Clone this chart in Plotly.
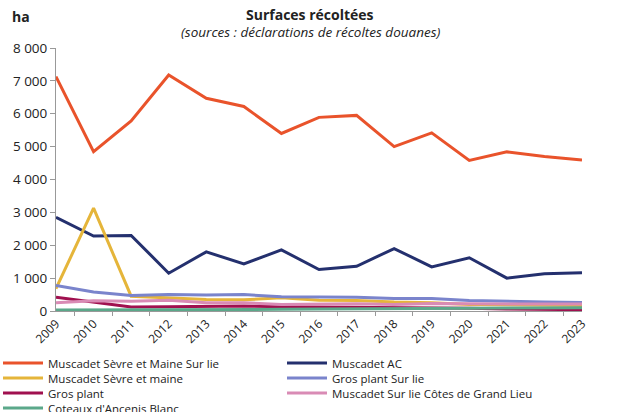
import plotly.graph_objects as go

years = [str(y) for y in range(2009, 2024)]

sevre_maine_sur_lie = [7130, 4850, 5780, 7180, 6470, 6220, 5400, 5890, 5950, 5000, 5420, 4580, 4840, 4700, 4590]
muscadet_ac = [2850, 2280, 2300, 1150, 1800, 1430, 1860, 1260, 1360, 1900, 1340, 1620, 1000, 1130, 1160]
sevre_maine = [680, 3130, 450, 400, 350, 340, 400, 330, 320, 270, 250, 200, 190, 180, 170]
gros_plant_sur_lie = [780, 580, 470, 500, 490, 500, 430, 420, 420, 380, 380, 320, 290, 270, 260]
gros_plant = [420, 280, 120, 130, 140, 150, 130, 120, 120, 120, 110, 80, 60, 50, 40]
cotes_grand_lieu = [250, 310, 300, 330, 250, 250, 200, 210, 220, 200, 230, 220, 220, 210, 210]
coteaux_ancenis = [30, 30, 40, 40, 50, 50, 50, 60, 60, 60, 60, 80, 90, 100, 100]

series = [
    ("Muscadet Sèvre et Maine Sur lie", sevre_maine_sur_lie, "#E9532B"),
    ("Muscadet AC", muscadet_ac, "#24306E"),
    ("Muscadet Sèvre et maine", sevre_maine, "#E5B53A"),
    ("Gros plant Sur lie", gros_plant_sur_lie, "#7A84CC"),
    ("Gros plant", gros_plant, "#A0104F"),
    ("Muscadet Sur lie Côtes de Grand Lieu", cotes_grand_lieu, "#D98BB5"),
    ("Coteaux d'Ancenis Blanc", coteaux_ancenis, "#5BA88A"),
]

L, R, T, B = 56, 37, 48, 101
W, H = 619, 412
pw, ph = W - L - R, H - T - B

def px2paper(px, py):
    return (px - L) / pw, (H - B - py) / ph

legend_names = ["legend", "legend2", "legend3", "legend4"]

fig = go.Figure()
for i, (name, vals, col) in enumerate(series):
    fig.add_trace(go.Scatter(x=years, y=vals, name=name, mode="lines",
                             line=dict(color=col, width=3),
                             legend=legend_names[i // 2]))

font_fam = "Open Sans, Noto Sans, sans-serif"

layout_legends = {}
for r, lname in enumerate(legend_names):
    lx, ly = px2paper(-2, 363 + 15 * r)
    layout_legends[lname] = dict(
        orientation="h", x=lx, xanchor="left", y=ly, yanchor="middle",
        entrywidth=229, entrywidthmode="pixels", font=dict(size=11.5),
        tracegroupgap=0, itemwidth=40, bgcolor="rgba(0,0,0,0)")

fig.update_layout(
    width=W, height=H,
    margin=dict(l=L, r=R, t=T, b=B, autoexpand=False),
    paper_bgcolor="white", plot_bgcolor="white",
    separators=", ",
    font=dict(family=font_fam, size=12, color="#222"),
    showlegend=True,
    xaxis=dict(type="category", showline=True, linecolor="#999", linewidth=1,
               ticks="outside", tickson="boundaries", tickcolor="#999", ticklen=4,
               tickangle=-45, showgrid=False, tickfont=dict(size=12)),
    yaxis=dict(range=[0, 8000], dtick=1000, tickformat=",.0f", showline=True,
               linecolor="#999", linewidth=1, ticks="outside", tickcolor="#999",
               ticklen=5, showgrid=False, zeroline=False, tickfont=dict(size=13.5)),
    **layout_legends,
)

for text, px, py, size in [
    ("<b>Surfaces récoltées</b>", 310, 14, 14),
    ("<i>(sources : déclarations de récoltes douanes)</i>", 310, 32, 13.5),
    ("<b>ha</b>", 21, 17, 14),
]:
    ax, ay = px2paper(px, py)
    fig.add_annotation(text=text, x=ax, y=ay, xref="paper", yref="paper",
                       xanchor="center", yanchor="middle", showarrow=False,
                       font=dict(size=size))

fig.write_html("out.html", config={"displayModeBar": False},
               post_script="document.body.style.margin='0';document.body.style.overflow='hidden';")
